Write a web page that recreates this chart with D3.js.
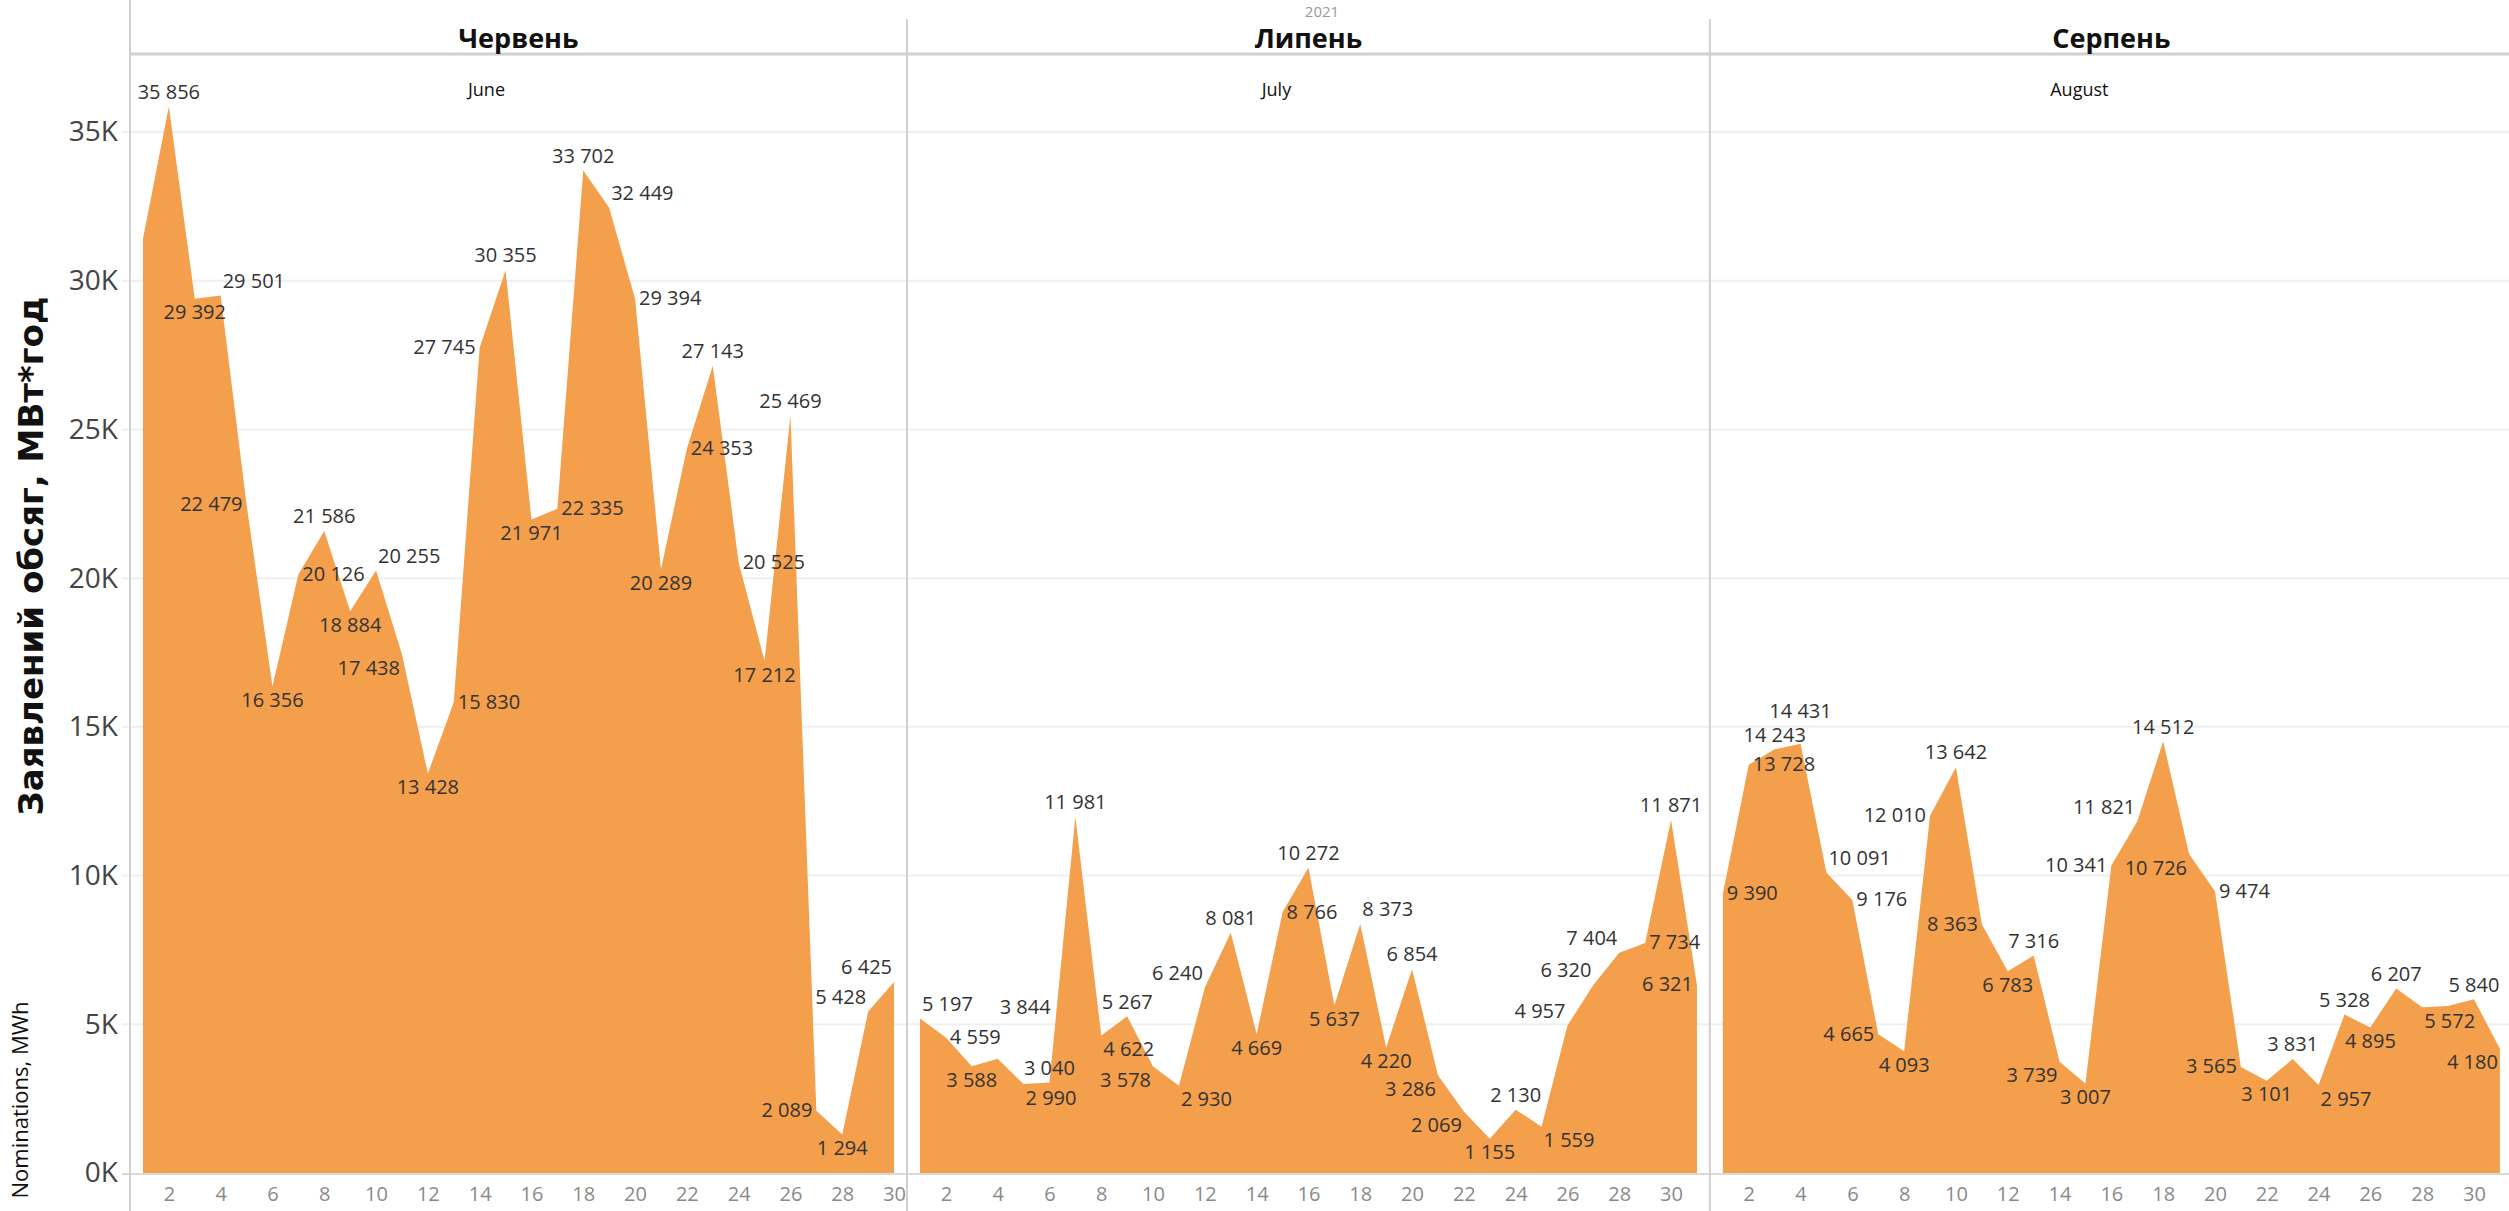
<!DOCTYPE html>
<html>
<head>
<meta charset="utf-8">
<script src="https://cdn.jsdelivr.net/npm/d3@7"></script>
<style>
  body { margin: 0; background: #fff; overflow: hidden; }
  svg { display: block; }
</style>
</head>
<body>
<svg id="chart" width="2509" height="1211"></svg>
<script>
// month panels (headers + small english captions)
var months = ["Червень", "Липень", "Серпень"];
var monthsEn = ["June", "July", "August"];

// daily nominations, MWh
var juneValues = [31400, 35856, 29392, 29501, 22479, 16356, 20126, 21586, 18884, 20255,
  17438, 13428, 15830, 27745, 30355, 21971, 22335, 33702, 32449, 29394,
  20289, 24353, 27143, 20525, 17212, 25469, 2089, 1294, 5428, 6425];
var julyValues = [5197, 4559, 3588, 3844, 2990, 3040, 11981, 4622, 5267, 3578,
  2930, 6240, 8081, 4669, 8766, 10272, 5637, 8373, 4220, 6854,
  3286, 2069, 1155, 2130, 1559, 4957, 6320, 7404, 7734, 11871, 6321];
var augustValues = [9390, 13728, 14243, 14431, 10091, 9176, 4665, 4093, 12010, 13642,
  8363, 6783, 7316, 3739, 3007, 10341, 11821, 14512, 10726, 9474,
  3565, 3101, 3831, 2957, 5328, 4895, 6207, 5572, 5615, 5840, 4180];

var yTicks = [0, 5000, 10000, 15000, 20000, 25000, 30000, 35000];
var xTicks = [2, 4, 6, 8, 10, 12, 14, 16, 18, 20, 22, 24, 26, 28, 30];

// labels that tableau did not show: [panel index, day]
var hiddenLabels = [[0, 1], [2, 29]];

var panelData = [juneValues, julyValues, augustValues];

var W = 2509, H = 1211;
var plotLeft = 130, dayWidth = 25.9;
var headerTop = 19, headerBottom = 54, baseY = 1173;
var areaColor = "#f39f4b";
var labelFont = 20;

var svg = d3.select("#chart");

var y = d3.scaleLinear().domain([0, 35000]).range([baseY, 132]);
var fmt = function (v) { return d3.format(",")(v).replace(/,/g, " "); };

// panel geometry
var panels = [];
var xStart = plotLeft;
panelData.forEach(function (vals, i) {
  var x0 = xStart, x1 = xStart + vals.length * dayWidth;
  panels.push({
    name: months[i], en: monthsEn[i], values: vals, x0: x0, x1: x1,
    x: d3.scaleLinear().domain([0.5, vals.length + 0.5]).range([x0, x1])
  });
  xStart = x1;
});

// gridlines
svg.append("g").selectAll("line")
  .data(yTicks.filter(function (d) { return d > 0; }))
  .enter().append("line")
  .attr("x1", 122).attr("x2", W)
  .attr("y1", function (d) { return y(d); })
  .attr("y2", function (d) { return y(d); })
  .attr("stroke", "#efefef").attr("stroke-width", 2);

// areas
var areaG = svg.append("g");
panels.forEach(function (p) {
  var area = d3.area()
    .x(function (d, i) { return p.x(i + 1); })
    .y0(y(0))
    .y1(function (d) { return y(d); });
  areaG.append("path")
    .datum(p.values)
    .attr("d", area)
    .attr("fill", areaColor);
});

// zero axis line
svg.append("line")
  .attr("x1", 122).attr("x2", W)
  .attr("y1", y(0) + 1).attr("y2", y(0) + 1)
  .attr("stroke", "#d9d9d9").attr("stroke-width", 2);

// header line + panel separators
svg.append("line")
  .attr("x1", plotLeft).attr("x2", W)
  .attr("y1", headerBottom).attr("y2", headerBottom)
  .attr("stroke", "#d0d0d0").attr("stroke-width", 3);

svg.append("line")
  .attr("x1", plotLeft).attr("x2", plotLeft)
  .attr("y1", 0).attr("y2", H)
  .attr("stroke", "#d0d0d0").attr("stroke-width", 2);

svg.append("g").selectAll("line")
  .data(panels.slice(1))
  .enter().append("line")
  .attr("x1", function (p) { return p.x0; })
  .attr("x2", function (p) { return p.x0; })
  .attr("y1", headerTop).attr("y2", H)
  .attr("stroke", "#d0d0d0").attr("stroke-width", 2);

// headers
svg.append("g").selectAll("text")
  .data(panels)
  .enter().append("text")
  .attr("x", function (p) { return (p.x0 + p.x1) / 2; })
  .attr("y", 48)
  .attr("text-anchor", "middle")
  .attr("font-family", "'Open Sans', sans-serif")
  .attr("font-weight", "bold")
  .attr("font-size", 27)
  .attr("fill", "#111")
  .text(function (p) { return p.name; });

svg.append("g").selectAll("text")
  .data(panels)
  .enter().append("text")
  .attr("x", function (p) { return (p.x0 + p.x1) / 2 - 32; })
  .attr("y", 96)
  .attr("text-anchor", "middle")
  .attr("font-family", "'Open Sans', sans-serif")
  .attr("font-size", 18)
  .attr("fill", "#111")
  .text(function (p) { return p.en; });

// year caption at the very top
svg.append("text")
  .attr("x", 1322).attr("y", 17)
  .attr("text-anchor", "middle")
  .attr("font-family", "'Open Sans', sans-serif")
  .attr("font-size", 15)
  .attr("fill", "#9a9a9a")
  .text("2021");

// y axis
var yAxis = d3.axisLeft(y)
  .tickValues(yTicks)
  .tickSize(0)
  .tickPadding(0)
  .tickFormat(function (d) { return (d / 1000) + "K"; });

var yg = svg.append("g")
  .attr("transform", "translate(118,0)")
  .call(yAxis);
yg.select(".domain").remove();
yg.selectAll("text")
  .attr("font-family", "'Open Sans', sans-serif")
  .attr("font-size", 28)
  .attr("fill", "#444");

// x axes
panels.forEach(function (p) {
  var xAxis = d3.axisBottom(p.x)
    .tickValues(xTicks.filter(function (d) { return d <= p.values.length; }))
    .tickSize(0)
    .tickPadding(14)
    .tickFormat(d3.format("d"));
  var g = svg.append("g")
    .attr("transform", "translate(0," + baseY + ")")
    .call(xAxis);
  g.select(".domain").remove();
  g.selectAll("text")
    .attr("font-family", "'Open Sans', sans-serif")
    .attr("font-size", 20)
    .attr("fill", "#8a8a8a");
});

// axis titles
svg.append("text")
  .attr("transform", "translate(43,556) rotate(-90)")
  .attr("text-anchor", "middle")
  .attr("font-family", "'DejaVu Sans', sans-serif")
  .attr("font-weight", "bold")
  .attr("font-size", 34)
  .attr("fill", "#111")
  .text("Заявлений обсяг, МВт*год");

svg.append("text")
  .attr("transform", "translate(28,1100) rotate(-90)")
  .attr("text-anchor", "middle")
  .attr("font-family", "'Open Sans', sans-serif")
  .attr("font-size", 22)
  .attr("fill", "#111")
  .text("Nominations, MWh");

// ---- data labels, placed greedily around each point ----
function segHitsBox(ax, ay, bx, by, b) {
  // Liang-Barsky clip of segment against box
  var t0 = 0, t1 = 1, dx = bx - ax, dy = by - ay;
  var p = [-dx, dx, -dy, dy];
  var q = [ax - b.x0, b.x1 - ax, ay - b.y0, b.y1 - ay];
  for (var k = 0; k < 4; k++) {
    if (p[k] === 0) { if (q[k] < 0) return false; }
    else {
      var r = q[k] / p[k];
      if (p[k] < 0) { if (r > t1) return false; if (r > t0) t0 = r; }
      else { if (r < t0) return false; if (r < t1) t1 = r; }
    }
  }
  return true;
}
function boxesHit(a, b) {
  return a.x0 < b.x1 && b.x0 < a.x1 && a.y0 < b.y1 && b.y0 < a.y1;
}

var labelG = svg.append("g")
  .attr("font-family", "'Open Sans', sans-serif")
  .attr("font-size", labelFont)
  .attr("fill", "#333");

panels.forEach(function (p, pi) {
  var pts = p.values.map(function (v, i) { return { px: p.x(i + 1), py: y(v), v: v, day: i + 1 }; });
  var segs = [];
  for (var i = 0; i < pts.length - 1; i++) segs.push([pts[i].px, pts[i].py, pts[i + 1].px, pts[i + 1].py]);
  segs.push([pts[0].px, pts[0].py, pts[0].px, baseY]);
  var last = pts[pts.length - 1];
  segs.push([last.px, last.py, last.px, baseY]);

  var placed = [];
  var asc = labelFont * 0.78, desc = labelFont * 0.14, g = 5, pad = 1.5;
  var h = asc + desc;

  pts.forEach(function (pt, i) {
    var hidden = hiddenLabels.some(function (hl) { return hl[0] === pi && hl[1] === pt.day; });
    if (hidden) return;
    var t = labelG.append("text").text(fmt(pt.v));
    var w = t.node().getComputedTextLength();
    var prev = i > 0 ? pts[i - 1].v : null, next = i < pts.length - 1 ? pts[i + 1].v : null;
    var upP = prev === null || pt.v >= prev, upN = next === null || pt.v >= next;
    var cx = pt.px, cy = pt.py;
    function cands(gg) {
      return {
        top: { x0: cx - w / 2, y0: cy - gg - h },
        bottom: { x0: cx - w / 2, y0: cy + gg },
        right: { x0: cx + 4, y0: cy - h / 2 },
        left: { x0: cx - 4 - w, y0: cy - h / 2 },
        topright: { x0: cx + 2, y0: cy - gg - h },
        topleft: { x0: cx - 2 - w, y0: cy - gg - h },
        bottomright: { x0: cx + 2, y0: cy + gg },
        bottomleft: { x0: cx - 2 - w, y0: cy + gg }
      };
    }
    var order;
    if (upP && upN) order = ["top", "topleft", "topright", "right", "left", "bottom"];
    else if (!upP && !upN) order = ["bottom", "bottomleft", "bottomright", "right", "left", "top"];
    else if (!upN) order = ["right", "left", "topleft", "bottomright", "top", "bottom"];
    else order = ["left", "right", "bottomleft", "topright", "bottom", "top"];

    function fits(b, checkLine) {
      if (b.x0 < p.x0 + 1 || b.x1 > p.x1 - 1 || b.y0 < headerBottom + 4 || b.y1 > baseY - 2) return false;
      var pb = { x0: b.x0 - 3, y0: b.y0 - 3, x1: b.x1 + 3, y1: b.y1 + 3 };
      if (placed.some(function (o) { return boxesHit(pb, o); })) return false;
      if (checkLine) {
        var lb = { x0: b.x0 - pad, y0: b.y0 - pad, x1: b.x1 + pad, y1: b.y1 + pad };
        if (segs.some(function (s) { return segHitsBox(s[0], s[1], s[2], s[3], lb); })) return false;
      }
      return true;
    }
    var chosen = null;
    [[g, true], [g, false], [g + h, false], [g + 2 * h, false]].forEach(function (pass) {
      var c = cands(pass[0]);
      order.forEach(function (k) {
        if (chosen) return;
        var b = { x0: c[k].x0, y0: c[k].y0, x1: c[k].x0 + w, y1: c[k].y0 + h };
        if (fits(b, pass[1])) chosen = b;
      });
    });
    if (!chosen) {
      var c0 = cands(g)[order[0]];
      chosen = { x0: c0.x0, y0: c0.y0, x1: c0.x0 + w, y1: c0.y0 + h };
    }
    placed.push(chosen);
    t.attr("x", chosen.x0).attr("y", chosen.y0 + asc);
  });
});
</script>
</body>
</html>
